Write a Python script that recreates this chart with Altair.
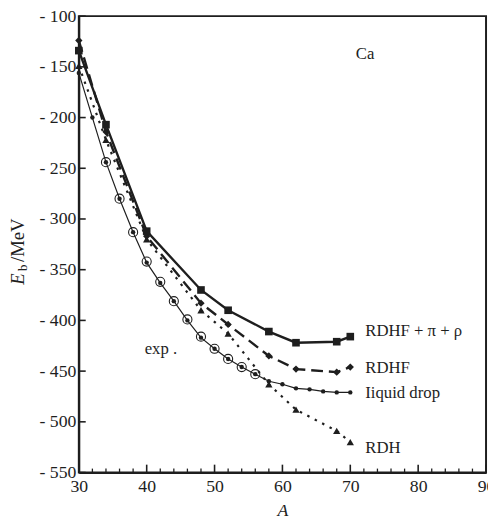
import altair as alt
import pandas as pd

# ---- data ----
A_rdhf_pr = [30, 34, 40, 48, 52, 58, 62, 68, 70]
E_rdhf_pr = [-134, -207, -312, -370, -390, -411, -422, -421, -416]

A_rdhf = [30, 34, 40, 48, 52, 58, 62, 68, 70]
E_rdhf = [-124, -214, -317, -383, -404, -435, -448, -451, -446]

A_rdh = [30, 34, 40, 48, 52, 58, 62, 68, 70]
E_rdh = [-149, -222, -320, -390, -413, -463, -488, -509, -520]

A_ld = [30, 32, 34, 36, 38, 40, 42, 44, 46, 48, 50, 52, 54, 56, 58, 60, 62, 64, 66, 68, 70]
E_ld = [-156, -200, -244, -280, -313, -343, -363, -381, -400, -417, -428, -438, -446, -453,
        -460, -463, -467, -468, -470, -471, -471]

A_exp = [34, 36, 38, 40, 42, 44, 46, 48, 50, 52, 54, 56]
E_exp = [-244, -280, -313, -342, -362, -381, -399, -416, -428, -438, -446, -453]

label_text = ["RDHF + π + ρ", "RDHF", "Iiquid drop", "RDH", "Ca", "exp ."]
label_A = [72.2, 72.2, 72.2, 72.2, 70.8, 39.7]
label_E = [-415, -452, -477, -531, -142, -433]

x_major = [30, 40, 50, 60, 70, 80, 90]
x_minor = [32, 34, 36, 38, 42, 44, 46, 48, 52, 54, 56, 58, 62, 64, 66, 68, 72, 74, 76, 78, 82, 84, 86, 88]
y_major = [-550, -500, -450, -400, -350, -300, -250, -200, -150, -100]

FONT = "Liberation Serif"
INK = "#1e1e1e"

xs = alt.Scale(domain=[30, 90], nice=False, zero=False)
ys = alt.Scale(domain=[-550, -100], nice=False, zero=False)

x_axis = alt.Axis(values=x_major, title="A", titleFontStyle="italic", titleFont=FONT,
                  titleFontSize=18, titleFontWeight="normal", titleColor=INK, titlePadding=7,
                  labelFont=FONT, labelFontSize=18, labelColor=INK, labelPadding=5,
                  ticks=False, tickSize=0, grid=False, domainColor=INK, domainWidth=2,
                  labelFlush=False)
y_axis = alt.Axis(values=y_major, title=None,
                  labelExpr="datum.value < 0 ? '- ' + (-datum.value) : datum.label",
                  labelFont=FONT, labelFontSize=18, labelColor=INK, labelPadding=3,
                  ticks=False, tickSize=0, grid=False, domainColor=INK, domainWidth=2,
                  labelFlush=False)

X = lambda: alt.X("A:Q", scale=xs, axis=x_axis)
Y = lambda: alt.Y("E:Q", scale=ys, axis=y_axis)


def df(a, e):
    return pd.DataFrame({"A": a, "E": e})


d_pr = df(A_rdhf_pr, E_rdhf_pr)
d_hf = df(A_rdhf, E_rdhf)
d_h = df(A_rdh, E_rdh)
d_ld = df(A_ld, E_ld)
d_exp = df(A_exp, E_exp)

layers = []
# liquid drop
layers.append(alt.Chart(d_ld).mark_line(color=INK, strokeWidth=1.2).encode(x=X(), y=Y()))
layers.append(alt.Chart(d_ld).mark_point(filled=True, shape="circle", size=20, color=INK, opacity=1).encode(x=X(), y=Y()))
# exp circles
layers.append(alt.Chart(d_exp).mark_point(filled=False, shape="circle", size=85, color=INK,
                                          strokeWidth=1.1, opacity=1).encode(x=X(), y=Y()))
# RDH dotted
layers.append(alt.Chart(d_h).mark_line(color=INK, strokeWidth=2.2, strokeDash=[2.5, 6]).encode(x=X(), y=Y()))
layers.append(alt.Chart(d_h).mark_point(filled=True, shape="triangle-up", size=55, color=INK, opacity=1).encode(x=X(), y=Y()))
# RDHF dashed
layers.append(alt.Chart(d_hf).mark_line(color=INK, strokeWidth=2.4, strokeDash=[12, 6]).encode(x=X(), y=Y()))
layers.append(alt.Chart(d_hf).mark_point(filled=True, shape="diamond", size=55, color=INK, opacity=1).encode(x=X(), y=Y()))
# RDHF + pi + rho solid
layers.append(alt.Chart(d_pr).mark_line(color=INK, strokeWidth=2.4).encode(x=X(), y=Y()))
layers.append(alt.Chart(d_pr).mark_point(filled=True, shape="square", size=60, color=INK, opacity=1).encode(x=X(), y=Y()))

# inward ticks
layers.append(alt.Chart(pd.DataFrame({"A": x_major})).mark_rule(color=INK, strokeWidth=1.6).encode(
    x=X(), y=alt.value(464), y2=alt.value(456)))
layers.append(alt.Chart(pd.DataFrame({"A": x_minor})).mark_rule(color=INK, strokeWidth=1.3).encode(
    x=X(), y=alt.value(464), y2=alt.value(460)))
layers.append(alt.Chart(pd.DataFrame({"E": y_major})).mark_rule(color=INK, strokeWidth=1.6).encode(
    y=Y(), x=alt.value(0), x2=alt.value(7)))

# annotations
d_lab = pd.DataFrame({"A": label_A, "E": label_E, "t": label_text})
layers.append(alt.Chart(d_lab).mark_text(align="left", baseline="alphabetic", font=FONT,
                                         fontSize=17, color=INK).encode(x=X(), y=Y(), text="t:N"))

# rotated y-axis title  E_b/MeV
t_df = pd.DataFrame({"k": [0]})
layers.append(alt.Chart(t_df).mark_text(text="E", angle=270, align="left", baseline="alphabetic",
                                        font=FONT, fontSize=19, fontStyle="italic", color=INK).encode(
    x=alt.value(-56), y=alt.value(273)))
layers.append(alt.Chart(t_df).mark_text(text="b", angle=270, align="left", baseline="alphabetic",
                                        font=FONT, fontSize=13, color=INK).encode(
    x=alt.value(-53), y=alt.value(259)))
layers.append(alt.Chart(t_df).mark_text(text="/MeV", angle=270, align="left", baseline="alphabetic",
                                        font=FONT, fontSize=19, color=INK).encode(
    x=alt.value(-56), y=alt.value(250)))

chart = alt.layer(*layers).properties(
    width=414, height=464,
    autosize=alt.AutoSizeParams(type="none"),
    padding={"left": 72, "top": 4, "right": 2, "bottom": 45},
    background="white",
).configure_view(stroke=INK, strokeWidth=2)

chart.save("out.html", embed_options={"renderer": "svg", "actions": False})
